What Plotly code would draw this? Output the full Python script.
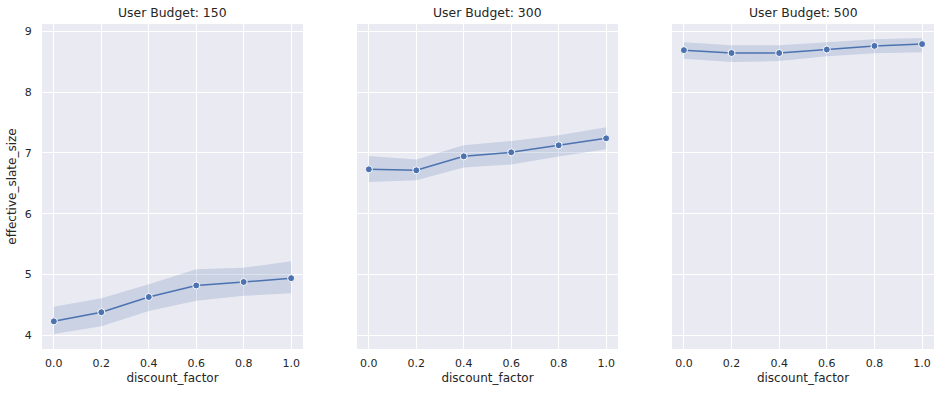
import plotly.graph_objects as go

discount_factor = [0.0, 0.2, 0.4, 0.6, 0.8, 1.0]
budgets = ["150", "300", "500"]

mean_150 = [4.23, 4.38, 4.63, 4.82, 4.877, 4.94]
upper_150 = [4.47, 4.61, 4.84, 5.085, 5.11, 5.22]
lower_150 = [4.02, 4.15, 4.40, 4.57, 4.65, 4.69]

mean_300 = [6.73, 6.714, 6.944, 7.01, 7.125, 7.24]
upper_300 = [6.95, 6.89, 7.125, 7.196, 7.29, 7.42]
lower_300 = [6.52, 6.55, 6.76, 6.81, 6.94, 7.06]

mean_500 = [8.69, 8.643, 8.643, 8.70, 8.76, 8.79]
upper_500 = [8.82, 8.77, 8.77, 8.82, 8.87, 8.89]
lower_500 = [8.55, 8.495, 8.51, 8.59, 8.64, 8.655]

y_ticks = [4, 5, 6, 7, 8, 9]
x_ticks = [0.0, 0.2, 0.4, 0.6, 0.8, 1.0]

series = [
    (mean_150, upper_150, lower_150),
    (mean_300, upper_300, lower_300),
    (mean_500, upper_500, lower_500),
]

W, H = 940, 393
x_doms = [(42, 303), (357, 618), (672, 934)]
y_top, y_bot = 24, 349


def px(X):
    return X / W


def py(Y):
    return 1 - Y / H


LINE = "#4C72B0"
BAND = "rgba(76,114,176,0.2)"
TXT = "#262626"
FONT = "DejaVu Sans"

fig = go.Figure()
for i, (m, u, l) in enumerate(series):
    xa = "x" if i == 0 else f"x{i+1}"
    ya = "y" if i == 0 else f"y{i+1}"
    fig.add_trace(go.Scatter(x=discount_factor, y=u, mode="lines", line=dict(width=0, color=LINE),
                             xaxis=xa, yaxis=ya, showlegend=False, hoverinfo="skip"))
    fig.add_trace(go.Scatter(x=discount_factor, y=l, mode="lines", line=dict(width=0, color=LINE),
                             fill="tonexty", fillcolor=BAND,
                             xaxis=xa, yaxis=ya, showlegend=False, hoverinfo="skip"))
    fig.add_trace(go.Scatter(x=discount_factor, y=m, mode="lines+markers",
                             line=dict(width=1.5, color=LINE),
                             marker=dict(size=7, color=LINE, line=dict(width=1, color="white")),
                             xaxis=xa, yaxis=ya, showlegend=False))

layout = dict(
    width=W, height=H,
    margin=dict(l=0, r=0, t=0, b=0, autoexpand=False),
    paper_bgcolor="white", plot_bgcolor="#EAEAF2",
    font=dict(family=FONT, size=11, color=TXT),
    showlegend=False,
    annotations=[],
)
for i in range(3):
    xk = "xaxis" if i == 0 else f"xaxis{i+1}"
    yk = "yaxis" if i == 0 else f"yaxis{i+1}"
    xa = "x" if i == 0 else f"x{i+1}"
    ya = "y" if i == 0 else f"y{i+1}"
    x0, x1 = x_doms[i]
    layout[xk] = dict(
        domain=[px(x0), px(x1)], anchor=ya, range=[-0.05, 1.05], automargin=False,
        tickvals=x_ticks, tickformat=".1f", showgrid=True, gridcolor="white", gridwidth=1,
        zeroline=False, showline=False, ticks="outside", ticklen=4, tickcolor="rgba(0,0,0,0)",
        tickfont=dict(size=11, color=TXT, family=FONT),
        title=dict(text="discount_factor", font=dict(size=12, color=TXT, family=FONT), standoff=4),
    )
    layout[yk] = dict(
        domain=[py(y_bot), py(y_top)], anchor=xa, range=[3.775, 9.12], automargin=False,
        tickvals=y_ticks, showgrid=True, gridcolor="white", gridwidth=1,
        zeroline=False, showline=False, ticks="outside", ticklen=7, tickcolor="rgba(0,0,0,0)",
        showticklabels=(i == 0),
        tickfont=dict(size=11, color=TXT, family=FONT),
    )
    if i == 0:
        layout[yk]["title"] = dict(text="effective_slate_size", font=dict(size=12, color=TXT, family=FONT), standoff=5)
    layout["annotations"].append(dict(
        text=f"User Budget: {budgets[i]}", xref="paper", yref="paper",
        x=px((x0 + x1) / 2), y=py(12.5), xanchor="center", yanchor="middle",
        showarrow=False, font=dict(size=12.4, color=TXT, family=FONT),
    ))

fig.update_layout(**layout)
fig.write_html("out.html", config={"displayModeBar": False},
               post_script="document.body.style.margin='0';")
